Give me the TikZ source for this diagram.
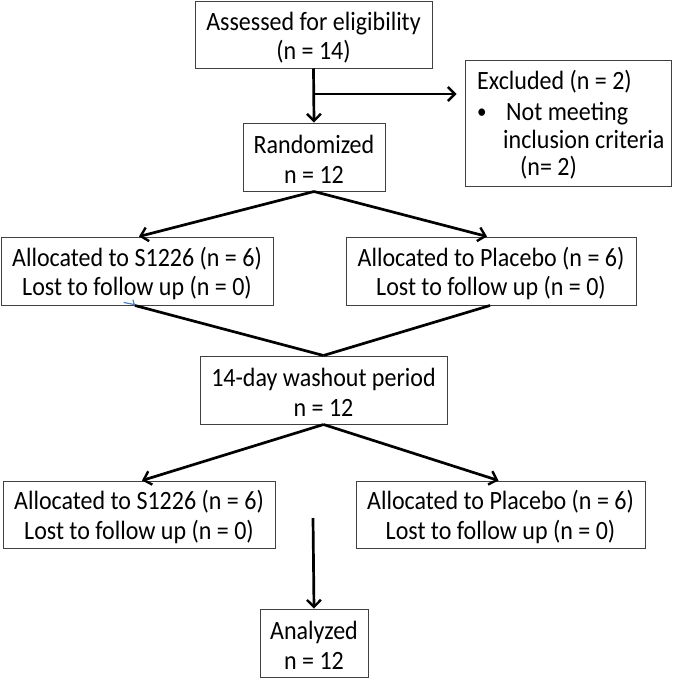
\documentclass[tikz,border=0pt]{standalone}
\usepackage{fontspec}
\setmainfont{Carlito}
\usetikzlibrary{arrows.meta,calc}
\begin{document}
\begin{tikzpicture}[x=1pt,y=-1pt,
  box/.style={draw=black!75,line width=1pt,rectangle,inner sep=0pt},
  ctext/.style={inner sep=0pt,align=center,font=\fontsize{24}{26.8}\selectfont,yscale=1.1,transform shape},
  txt/.style={inner sep=0pt,anchor=base west,font=\fontsize{24}{26.8}\selectfont,yscale=1.1,transform shape},
  conn/.style={line width=2.7pt,black},
  arr/.style={conn,-{Straight Barb[length=7pt,width=14pt,line width=2.4pt]}}]
\useasboundingbox (0,0) rectangle (685,678);
\node[box,minimum width=237pt,minimum height=67pt] (assess) at (313.5,34.5) {};
\node[ctext] (assesst) at ($(assess)+(0,3)$) {Assessed for eligibility\\(n = 14)};
\node[box,minimum width=206pt,minimum height=126pt] (excl) at (568,123) {};
\node[txt] (ex1) at (477,89) {Excluded (n = 2)};
\node[txt,font=\fontsize{19}{19}\selectfont] (ex2) at (477,118) {•};
\node[txt] (ex3) at (506,120) {Not meeting};
\node[txt] (ex4) at (503,148) {inclusion criteria};
\node[txt] (ex5) at (520,175) {(n= 2)};
\node[box,minimum width=142pt,minimum height=68pt] (rand) at (314,157) {};
\node[ctext] (randt) at ($(rand)+(0,2.5)$) {Randomized\\n = 12};
\node[box,minimum width=272pt,minimum height=68pt] (s1) at (137,271) {};
\node[ctext] (s1t) at ($(s1)+(0,2.5)$) {Allocated to S1226 (n = 6)\\Lost to follow up (n = 0)};
\node[box,minimum width=290pt,minimum height=68pt] (p1) at (491,271) {};
\node[ctext] (p1t) at ($(p1)+(0,2.5)$) {Allocated to Placebo (n = 6)\\Lost to follow up (n = 0)};
\node[box,minimum width=247pt,minimum height=68pt] (wash) at (323.5,390) {};
\node[ctext] (washt) at ($(wash)+(0,2.5)$) {14-day washout period\\n = 12};
\node[box,minimum width=272pt,minimum height=67pt] (s2) at (139,514.5) {};
\node[ctext] (s2t) at ($(s2)+(0,2.5)$) {Allocated to S1226 (n = 6)\\Lost to follow up (n = 0)};
\node[box,minimum width=289pt,minimum height=67pt] (p2) at (500.5,514.5) {};
\node[ctext] (p2t) at ($(p2)+(0,2.5)$) {Allocated to Placebo (n = 6)\\Lost to follow up (n = 0)};
\node[box,minimum width=108pt,minimum height=68pt] (anal) at (314,643) {};
\node[ctext] (analt) at ($(anal)+(0,2.5)$) {Analyzed\\n = 12};
\coordinate (branch) at (314,94);
\coordinate (astart) at (313,518);
% connectors
\draw[arr] (assess.south) -- (rand.north);
\draw[arr,shorten >=8pt] (branch) -- (excl.west |- branch);
\draw[arr] (rand.south) -- ($(s1.north)+(2,0)$);
\draw[arr] (rand.south) -- ($(p1.north)+(-4,0)$);
\draw[conn] ($(s1.south)+(-2,0)$) -- (wash.north);
\draw[conn] ($(p1.south)+(-1,0)$) -- (wash.north);
\draw[arr] (wash.south) -- ($(s2.north)+(3,0)$);
\draw[arr] (wash.south) -- ($(p2.north)+(-2,0)$);
\draw[arr] (astart) -- (anal.north);
% small blue mark
\draw[color={rgb,255:red,70;green,120;blue,190},line width=1.1pt,line cap=round]
  (124,302.5) .. controls (129,304) .. (134,304.5) (133,300) -- (134.5,305);
\end{tikzpicture}
\end{document}
